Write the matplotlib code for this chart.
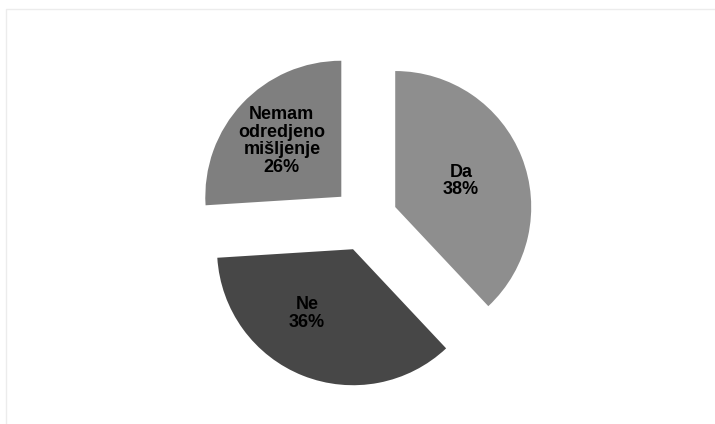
import numpy as np
import matplotlib.pyplot as plt
from matplotlib.patches import Rectangle

# Podaci
kategorije = ["Da", "Ne", "Nemam\nodredjeno\nmišljenje"]
procenti = [38, 36, 26]
boje = ["#8e8e8e", "#474747", "#7f7f7f"]

# Figura u pikselima (715x424)
fig = plt.figure(figsize=(7.15, 4.24), dpi=100)
ax = fig.add_axes([0, 0, 1, 1])

# Okvir grafikona
ax.add_patch(Rectangle((5.5, -20), 800, 424 - 9 + 20, fill=False,
                       edgecolor="#ececec", linewidth=1))

# explode je u jedinicama podataka (pikseli)
wedges, tekstovi = ax.pie(
    procenti,
    colors=boje,
    explode=[32.5, 32.5, 32.5],
    startangle=90,
    counterclock=False,
    center=(365, 205),
    radius=136,
    frame=True,
    wedgeprops={"linewidth": 0},
)
ax.set_xlim(0, 715)
ax.set_ylim(0, 424)
ax.set_aspect("equal")
ax.axis("off")

# Natpisi unutar isecaka
udaljenost = [0.52, 0.58, 0.6]
pomak_ugla = [0, -14, 0]
for w, kat, p, d, pu in zip(wedges, kategorije, procenti, udaljenost, pomak_ugla):
    ug = np.deg2rad((w.theta1 + w.theta2) / 2 + pu)
    cx, cy = w.center
    x = cx + d * w.r * np.cos(ug)
    y = cy + d * w.r * np.sin(ug)
    ax.text(x, y, f"{kat}\n{p}%", ha="center", va="center",
            fontsize=13, fontweight="bold", family="Liberation Sans",
            linespacing=1.05, color="black")

fig.savefig("out.png", dpi=100)
